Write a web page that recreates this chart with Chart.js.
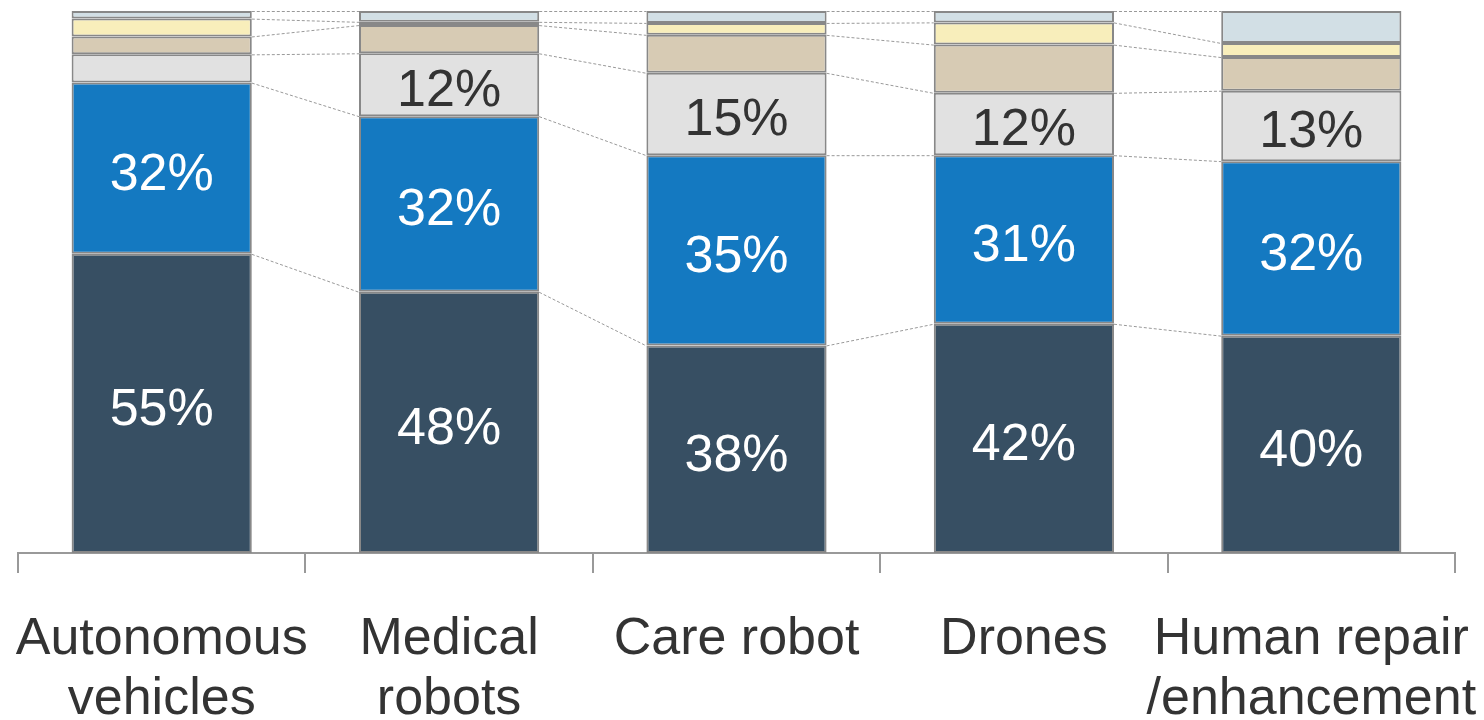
<!DOCTYPE html>
<html>
<head>
<meta charset="utf-8">
<script src="https://cdn.jsdelivr.net/npm/chart.js@4/dist/chart.umd.min.js"></script>
<style>
  html, body { margin: 0; padding: 0; background: #fff; }
  #wrap { width: 1484px; height: 720px; }
</style>
</head>
<body>
<div id="wrap"><canvas id="chart"></canvas></div>
<script>
const categories = [
  ["Autonomous", "vehicles"],
  ["Medical", "robots"],
  ["Care robot"],
  ["Drones"],
  ["Human repair", "/enhancement"],
];

// stacked shares (bottom to top), percent of each bar
const seg1 = [55.2, 48.2, 38.3, 42.3, 40.1];
const seg2 = [31.6, 32.4, 35.1, 31.1, 32.2];
const seg3 = [5.2, 11.6, 15.2, 11.5, 13.0];
const seg4 = [3.3, 5.2, 7.0, 8.9, 6.2];
const seg5 = [3.3, 0.6, 2.2, 4.1, 2.6];
const seg6 = [1.4, 2.0, 2.2, 2.1, 5.9];

const segNames = ["Segment 1", "Segment 2", "Segment 3", "Segment 4", "Segment 5", "Segment 6"];
const segColors = ["#374f63", "#1479c1", "#e1e1e1", "#d7cbb4", "#f8eebb", "#d2dfe5"];
const labelColors = ["#ffffff", "#ffffff", "#333333", "#333333", "#333333", "#333333"];

document.addEventListener("DOMContentLoaded", () => {
  const ctx = document.getElementById("chart").getContext("2d");
  const series = [seg1, seg2, seg3, seg4, seg5, seg6];

  // dashed connectors between segment tops of neighbouring bars
  const connectors = {
    id: "connectors",
    beforeDatasetsDraw(chart) {
      const c = chart.ctx;
      c.save();
      c.strokeStyle = "#999999";
      c.lineWidth = 1;
      c.setLineDash([3, 2]);
      chart.data.datasets.forEach((ds, di) => {
        const bars = chart.getDatasetMeta(di).data;
        for (let i = 0; i < bars.length - 1; i++) {
          const a = bars[i], b = bars[i + 1];
          c.beginPath();
          c.moveTo(a.x + a.width / 2, a.y + 0.5);
          c.lineTo(b.x - b.width / 2, b.y + 0.5);
          c.stroke();
        }
      });
      c.restore();
    },
  };

  // percentage labels in the larger segments
  const segLabels = {
    id: "segLabels",
    afterDatasetsDraw(chart) {
      const c = chart.ctx;
      c.save();
      c.font = '52px "Liberation Sans", Arial, sans-serif';
      c.textAlign = "center";
      c.textBaseline = "middle";
      chart.data.datasets.forEach((ds, di) => {
        chart.getDatasetMeta(di).data.forEach((bar, i) => {
          const v = ds.data[i];
          if (v < 10) return;
          c.fillStyle = labelColors[di];
          c.fillText(Math.round(v) + "%", bar.x, (bar.y + bar.base) / 2 + 7);
        });
      });
      c.restore();
    },
  };

  new Chart(ctx, {
    type: "bar",
    data: {
      labels: categories,
      datasets: series.map((d, i) => ({
        label: segNames[i],
        data: d,
        backgroundColor: segColors[i],
        borderColor: "#888888",
        borderWidth: 2,
        borderSkipped: false,
        categoryPercentage: 1,
        barPercentage: 0.627,
      })),
    },
    options: {
      responsive: true,
      maintainAspectRatio: false,
      animation: false,
      layout: { padding: { left: 18, right: 29, top: 11, bottom: 0 } },
      plugins: { legend: { display: false }, tooltip: { enabled: false } },
      scales: {
        x: {
          stacked: true,
          afterFit: (s) => {
            s.height = 167;
            s.paddingLeft = 0;
            s.paddingRight = 0;
          },
          border: { display: true, color: "#999999", width: 2 },
          grid: {
            offset: true,
            drawOnChartArea: false,
            drawTicks: true,
            tickLength: 20,
            color: "#999999",
            lineWidth: 2,
          },
          ticks: {
            color: "#333333",
            padding: 36,
            maxRotation: 0,
            autoSkip: false,
            font: { family: '"Liberation Sans", Arial, sans-serif', size: 52, lineHeight: 1.16 },
          },
        },
        y: { stacked: true, display: false, min: 0, max: 100 },
      },
    },
    plugins: [connectors, segLabels],
  });
});
</script>
</body>
</html>
